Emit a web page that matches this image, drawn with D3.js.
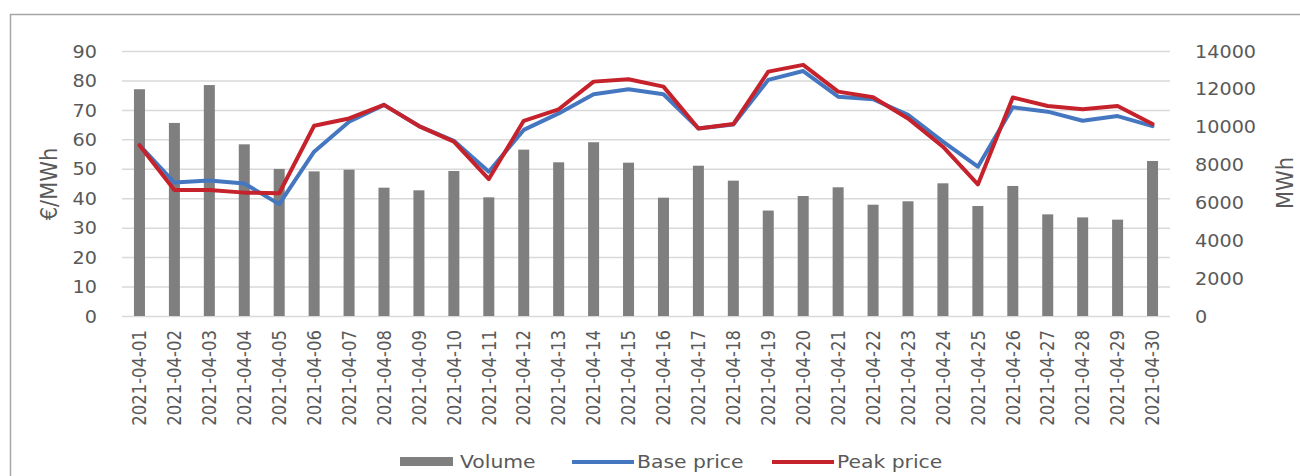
<!DOCTYPE html>
<html>
<head>
<meta charset="utf-8">
<script src="https://cdn.jsdelivr.net/npm/d3@7"></script>
<style>
  html, body { margin: 0; padding: 0; background: #fff; }
  svg { display: block; }
  text { font-family: "DejaVu Sans", sans-serif; fill: #595959; }
</style>
</head>
<body>
<svg id="chart" width="1300" height="476"></svg>
<script>
// Daily dates of April 2021
const dates = [
  "2021-04-01","2021-04-02","2021-04-03","2021-04-04","2021-04-05","2021-04-06",
  "2021-04-07","2021-04-08","2021-04-09","2021-04-10","2021-04-11","2021-04-12",
  "2021-04-13","2021-04-14","2021-04-15","2021-04-16","2021-04-17","2021-04-18",
  "2021-04-19","2021-04-20","2021-04-21","2021-04-22","2021-04-23","2021-04-24",
  "2021-04-25","2021-04-26","2021-04-27","2021-04-28","2021-04-29","2021-04-30"
];

// Traded volume, MWh (right axis)
const volume = [
  11980, 10200, 12200, 9070, 7770, 7640, 7730, 6780, 6640, 7660,
  6270, 8790, 8120, 9180, 8100, 6250, 7940, 7150, 5570, 6340,
  6800, 5880, 6060, 7010, 5810, 6870, 5370, 5210, 5090, 8190
];

// Base price, €/MWh (left axis)
const basePrice = [
  58.0, 45.3, 46.0, 45.0, 38.0, 55.8, 66.0, 71.7, 64.5, 59.5,
  49.0, 63.2, 68.8, 75.3, 77.0, 75.3, 63.7, 65.0, 80.2, 83.2,
  74.5, 73.6, 68.3, 59.2, 50.7, 70.9, 69.4, 66.3, 67.9, 64.5
];

// Peak price, €/MWh (left axis)
const peakPrice = [
  58.0, 42.8, 42.8, 41.9, 41.7, 64.6, 67.1, 71.7, 64.5, 59.2,
  46.5, 66.3, 70.2, 79.6, 80.4, 77.9, 63.7, 65.2, 83.0, 85.3,
  76.2, 74.3, 67.1, 57.5, 44.7, 74.2, 71.3, 70.2, 71.3, 65.2
];

const priceTicks = [0, 10, 20, 30, 40, 50, 60, 70, 80, 90];
const volumeTicks = [0, 2000, 4000, 6000, 8000, 10000, 12000, 14000];

const legendItems = ["Volume", "Base price", "Peak price"];

const colors = { volume: "#7f7f7f", base: "#4577c1", peak: "#c5222b", grid: "#d9d9d9" };

// horizontal stretch applied to all text
const SX = 1.13;

const svg = d3.select("#chart");
const plotLeft = 122, plotRight = 1170, plotTop = 51, plotBottom = 316;

// outer frame
svg.append("path")
  .attr("d", `M10.5,476 V14.5 H1300`)
  .attr("fill", "none")
  .attr("stroke", "#a6a6a6")
  .attr("stroke-width", 1.5);

const x = d3.scaleBand()
  .domain(dates)
  .range([plotLeft, plotRight])
  .paddingInner(0.685)
  .paddingOuter(0.3425);

const yPrice = d3.scaleLinear().domain([0, 90]).range([plotBottom, plotTop]);
const yVol = d3.scaleLinear().domain([0, 14000]).range([plotBottom, plotTop]);

// gridlines
svg.append("g")
  .attr("transform", `translate(${plotLeft},0)`)
  .call(d3.axisLeft(yPrice).tickValues(priceTicks).tickSize(-(plotRight - plotLeft)).tickFormat(""))
  .call(g => g.select(".domain").remove())
  .call(g => g.selectAll("line").attr("stroke", colors.grid).attr("stroke-width", 1.5));

// left axis labels
svg.append("g")
  .attr("transform", `translate(${plotLeft},0)`)
  .call(d3.axisLeft(yPrice).tickValues(priceTicks).tickSize(0))
  .call(g => g.select(".domain").remove())
  .call(g => g.selectAll("text")
    .attr("x", 0).attr("dy", "0.36em")
    .attr("transform", `translate(-25,0) scale(${SX},1)`)
    .style("font-size", "17px").style("fill", "#595959"));

// right axis labels
svg.append("g")
  .attr("transform", `translate(${plotRight},0)`)
  .call(d3.axisRight(yVol).tickValues(volumeTicks).tickSize(0).tickFormat(d3.format("d")))
  .call(g => g.select(".domain").remove())
  .call(g => g.selectAll("text")
    .attr("x", 0).attr("dy", "0.36em")
    .attr("transform", `translate(25,0) scale(${SX},1)`)
    .style("font-size", "17px").style("fill", "#595959"));

// bottom axis with rotated dates
svg.append("g")
  .attr("transform", `translate(0,${plotBottom})`)
  .call(d3.axisBottom(x).tickSize(0))
  .call(g => g.select(".domain").remove())
  .call(g => g.selectAll("text")
    .attr("x", 0).attr("y", 0).attr("dy", "0.36em")
    .attr("text-anchor", "end")
    .attr("transform", `translate(0,14) scale(${SX},1) rotate(-90)`)
    .style("font-size", "16.5px").style("fill", "#595959"));

// volume bars
svg.append("g")
  .selectAll("rect")
  .data(volume)
  .join("rect")
  .attr("x", (d, i) => x(dates[i]))
  .attr("width", x.bandwidth())
  .attr("y", d => yVol(d))
  .attr("height", d => yVol(0) - yVol(d))
  .attr("fill", colors.volume);

// price lines
const line = d3.line()
  .x((d, i) => x(dates[i]) + x.bandwidth() / 2)
  .y(d => yPrice(d));

svg.append("path")
  .datum(basePrice)
  .attr("d", line)
  .attr("fill", "none")
  .attr("stroke", colors.base)
  .attr("stroke-width", 4)
  .attr("stroke-linejoin", "round")
  .attr("stroke-linecap", "round");

svg.append("path")
  .datum(peakPrice)
  .attr("d", line)
  .attr("fill", "none")
  .attr("stroke", colors.peak)
  .attr("stroke-width", 4)
  .attr("stroke-linejoin", "round")
  .attr("stroke-linecap", "round");

// axis titles
svg.append("text")
  .attr("transform", `translate(57,184) scale(${SX},1) rotate(-90)`)
  .attr("text-anchor", "middle")
  .style("font-size", "21px")
  .text("€/MWh");

svg.append("text")
  .attr("transform", `translate(1293,183) scale(${SX},1) rotate(-90)`)
  .attr("text-anchor", "middle")
  .style("font-size", "21px")
  .text("MWh");

// legend
const legend = svg.append("g");
legend.append("rect")
  .attr("x", 400).attr("y", 457).attr("width", 53).attr("height", 9)
  .attr("fill", colors.volume);
legend.append("line")
  .attr("x1", 572).attr("x2", 634).attr("y1", 462).attr("y2", 462)
  .attr("stroke", colors.base).attr("stroke-width", 4);
legend.append("line")
  .attr("x1", 772).attr("x2", 834).attr("y1", 462).attr("y2", 462)
  .attr("stroke", colors.peak).attr("stroke-width", 4);

const legendX = [460, 637, 837];
legend.selectAll("text.item")
  .data(legendItems)
  .join("text")
  .attr("class", "item")
  .attr("transform", (d, i) => `translate(${legendX[i]},468) scale(${SX},1)`)
  .style("font-size", "18px")
  .text(d => d);
</script>
</body>
</html>
